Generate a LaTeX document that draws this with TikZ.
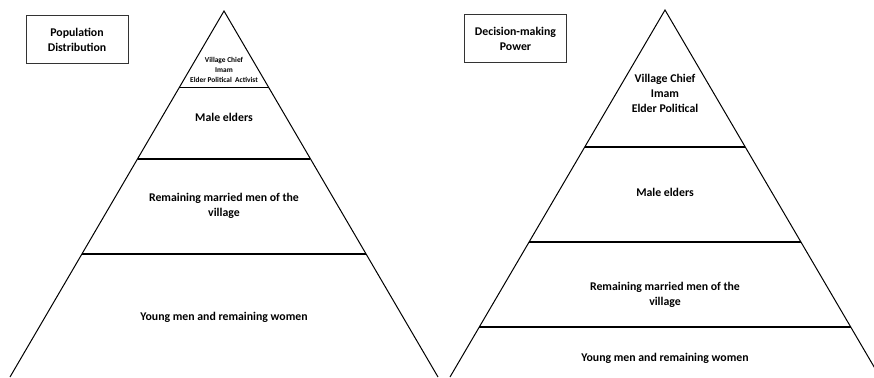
\documentclass[tikz,border=0pt]{standalone}
\usepackage{fontspec}
\setmainfont{Carlito}

\tikzset{
  tier/.style={font=\fontsize{11.8}{15}\selectfont\bfseries, align=center, inner sep=0pt},
  smalltier/.style={font=\fontsize{7.4}{10}\selectfont\bfseries, align=center, inner sep=0pt},
  titlebox/.style={draw=black!80, line width=1pt, minimum width=102pt,
    minimum height=48pt, font=\fontsize{11.8}{15}\selectfont\bfseries, align=center},
  divider/.style={line width=1.6pt},
}

\begin{document}
\begin{tikzpicture}[x=1pt,y=-1pt]
        \useasboundingbox (0,0) rectangle (874,377);
        \clip (0,0) rectangle (874,377);

        % population pyramid
        \draw[line width=1pt] (10,377) -- (224,11) -- (438,377);
        \draw[divider] (179,87.7) -- (269,87.7);
        \draw[divider] (138,159) -- (310,159);
        \draw[divider] (82,254) -- (366,254);

        \node[titlebox] (popbox) at (77,40) {Population\\Distribution};
        \node[smalltier] (poptop) at (224,69.5) {Village Chief\\Imam\\Elder Political\ \ Activist};
        \node[tier] (popelders) at (224,117) {Male elders};
        \node[tier] (popmarried) at (224,206) {Remaining married men of the\\village};
        \node[tier] (popyoung) at (224,317) {Young men and remaining women};

        % decision-making pyramid
        \draw[line width=1pt] (450,377) -- (665,10) -- (880,377);
        \draw[divider] (585,147) -- (745,147);
        \draw[divider] (529,242) -- (801,242);
        \draw[divider] (479,327) -- (851,327);

        \node[titlebox] (decbox) at (515.5,39) {Decision-making\\Power};
        \node[tier] (dectop) at (665,93) {Village Chief\\Imam\\Elder Political};
        \node[tier] (decelders) at (665,192) {Male elders};
        \node[tier] (decmarried) at (665,294.5) {Remaining married men of the\\village};
        \node[tier] (decyoung) at (665,358) {Young men and remaining women};

    \end{tikzpicture}
\end{document}
